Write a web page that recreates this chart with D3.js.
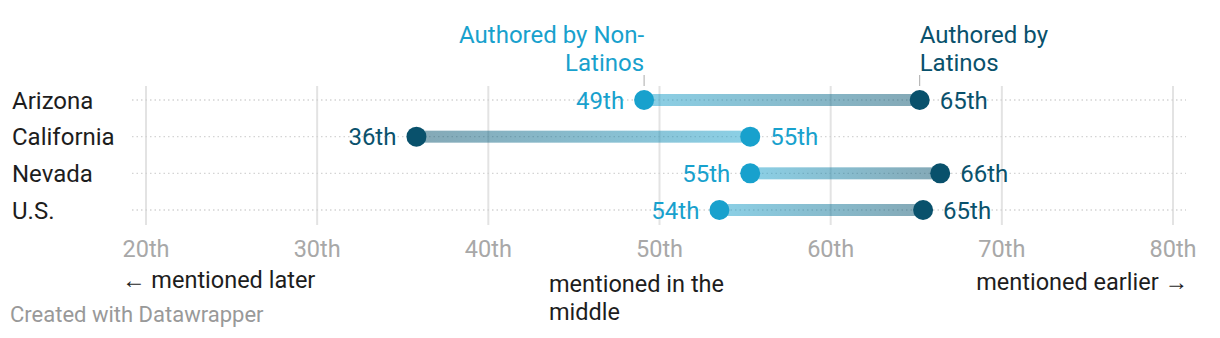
<!DOCTYPE html>
<html><head><meta charset="utf-8">
<script src="https://cdn.jsdelivr.net/npm/d3@7"></script>
<style>
body{margin:0;background:#fff;}
svg text{font-family:Roboto,"Noto Sans",sans-serif;}
</style></head>
<body><svg id="c" width="1220" height="338"></svg>
<script>
const categories = ["Arizona","California","Nevada","U.S."];
const nonLatinos = [49.1, 55.3, 55.3, 53.5];
const latinos = [65.2, 35.8, 66.4, 65.4];
const nonLatinoLabels = ["49th","55th","55th","54th"];
const latinoLabels = ["65th","36th","66th","65th"];
const tickValues = [20,30,40,50,60,70,80];
const tickLabels = ["20th","30th","40th","50th","60th","70th","80th"];

const cLight = "#18a1cd", cDark = "#09516c";
const svg = d3.select("#c");
const x = d3.scaleLinear().domain([20,80]).range([146,1173]);
const y = d3.scalePoint().domain(categories).range([100,210]);

const defs = svg.append("defs");
function grad(id, from, to){
  const g = defs.append("linearGradient").attr("id",id).attr("x1","0%").attr("x2","100%");
  g.append("stop").attr("offset","0%").attr("stop-color",from);
  g.append("stop").attr("offset","100%").attr("stop-color",to);
}
grad("gLD", cLight, cDark);
grad("gDL", cDark, cLight);

// vertical grid
svg.append("g").selectAll("line").data(tickValues).join("line")
  .attr("x1",d=>x(d)).attr("x2",d=>x(d)).attr("y1",86).attr("y2",225)
  .attr("stroke","#e3e3e3").attr("stroke-width",2);
// horizontal dotted lines
svg.append("g").selectAll("line").data(categories).join("line")
  .attr("x1",132).attr("x2",1186).attr("y1",d=>y(d)).attr("y2",d=>y(d))
  .attr("stroke","#d4d4d4").attr("stroke-width",1.3).attr("stroke-dasharray","1.5,3");

// tick labels
svg.append("g").selectAll("text").data(tickValues).join("text")
  .attr("x",d=>x(d)).attr("y",257).attr("text-anchor","middle")
  .attr("font-size",23.5).attr("fill","#a8a8a8").text((d,i)=>tickLabels[i]);

// row labels
svg.append("g").selectAll("text").data(categories).join("text")
  .attr("x",12).attr("y",d=>y(d)+8.5).attr("font-size",24).attr("fill","#1d1d1d").text(d=>d);

// bars
const rows = categories.map((c,i)=>({c, n:nonLatinos[i], l:latinos[i], nl:nonLatinoLabels[i], ll:latinoLabels[i]}));
svg.append("g").selectAll("rect").data(rows).join("rect")
  .attr("x",d=>x(Math.min(d.n,d.l))).attr("width",d=>Math.abs(x(d.l)-x(d.n)))
  .attr("y",d=>y(d.c)-6).attr("height",12)
  .attr("fill",d=>d.n<d.l?"url(#gLD)":"url(#gDL)").attr("opacity",0.5);

// dots
const g = svg.append("g");
g.selectAll("circle.n").data(rows).join("circle").attr("class","n")
  .attr("cx",d=>x(d.n)).attr("cy",d=>y(d.c)).attr("r",10).attr("fill",cLight);
g.selectAll("circle.l").data(rows).join("circle").attr("class","l")
  .attr("cx",d=>x(d.l)).attr("cy",d=>y(d.c)).attr("r",10).attr("fill",cDark);

// value labels
function lab(d, v, t, col, other){
  const left = v < other;
  svg.append("text").attr("x", left? x(v)-20 : x(v)+20).attr("y", y(d.c)+8.5)
    .attr("text-anchor", left?"end":"start").attr("font-size",24).attr("fill",col).text(t);
}
rows.forEach(d=>{ lab(d,d.n,d.nl,cLight,d.l); lab(d,d.l,d.ll,cDark,d.n); });

// annotations
const a0 = rows[0];
svg.append("line").attr("x1",x(a0.n)).attr("x2",x(a0.n)).attr("y1",75).attr("y2",86).attr("stroke","#aaa").attr("stroke-width",1);
svg.append("line").attr("x1",x(a0.l)).attr("x2",x(a0.l)).attr("y1",75).attr("y2",86).attr("stroke","#aaa").attr("stroke-width",1);
const t1 = svg.append("text").attr("text-anchor","end").attr("font-size",24).attr("fill",cLight);
t1.append("tspan").attr("x",x(a0.n)).attr("y",42.5).text("Authored by Non-");
t1.append("tspan").attr("x",x(a0.n)).attr("y",70.5).text("Latinos");
const t2 = svg.append("text").attr("text-anchor","start").attr("font-size",24).attr("fill",cDark);
t2.append("tspan").attr("x",x(a0.l)).attr("y",42.5).text("Authored by");
t2.append("tspan").attr("x",x(a0.l)).attr("y",70.5).text("Latinos");

// axis descriptions
svg.append("text").attr("x",122).attr("y",288).attr("font-size",23.5).attr("fill","#1d1d1d").text("← mentioned later");
const m = svg.append("text").attr("font-size",23.5).attr("fill","#1d1d1d");
m.append("tspan").attr("x",549).attr("y",292).text("mentioned in the");
m.append("tspan").attr("x",549).attr("y",320).text("middle");
svg.append("text").attr("x",1188).attr("y",290).attr("text-anchor","end").attr("font-size",23.5).attr("fill","#1d1d1d").text("mentioned earlier →");

svg.append("text").attr("x",10).attr("y",322).attr("font-size",22).attr("fill","#999").text("Created with Datawrapper");
</script></body></html>
